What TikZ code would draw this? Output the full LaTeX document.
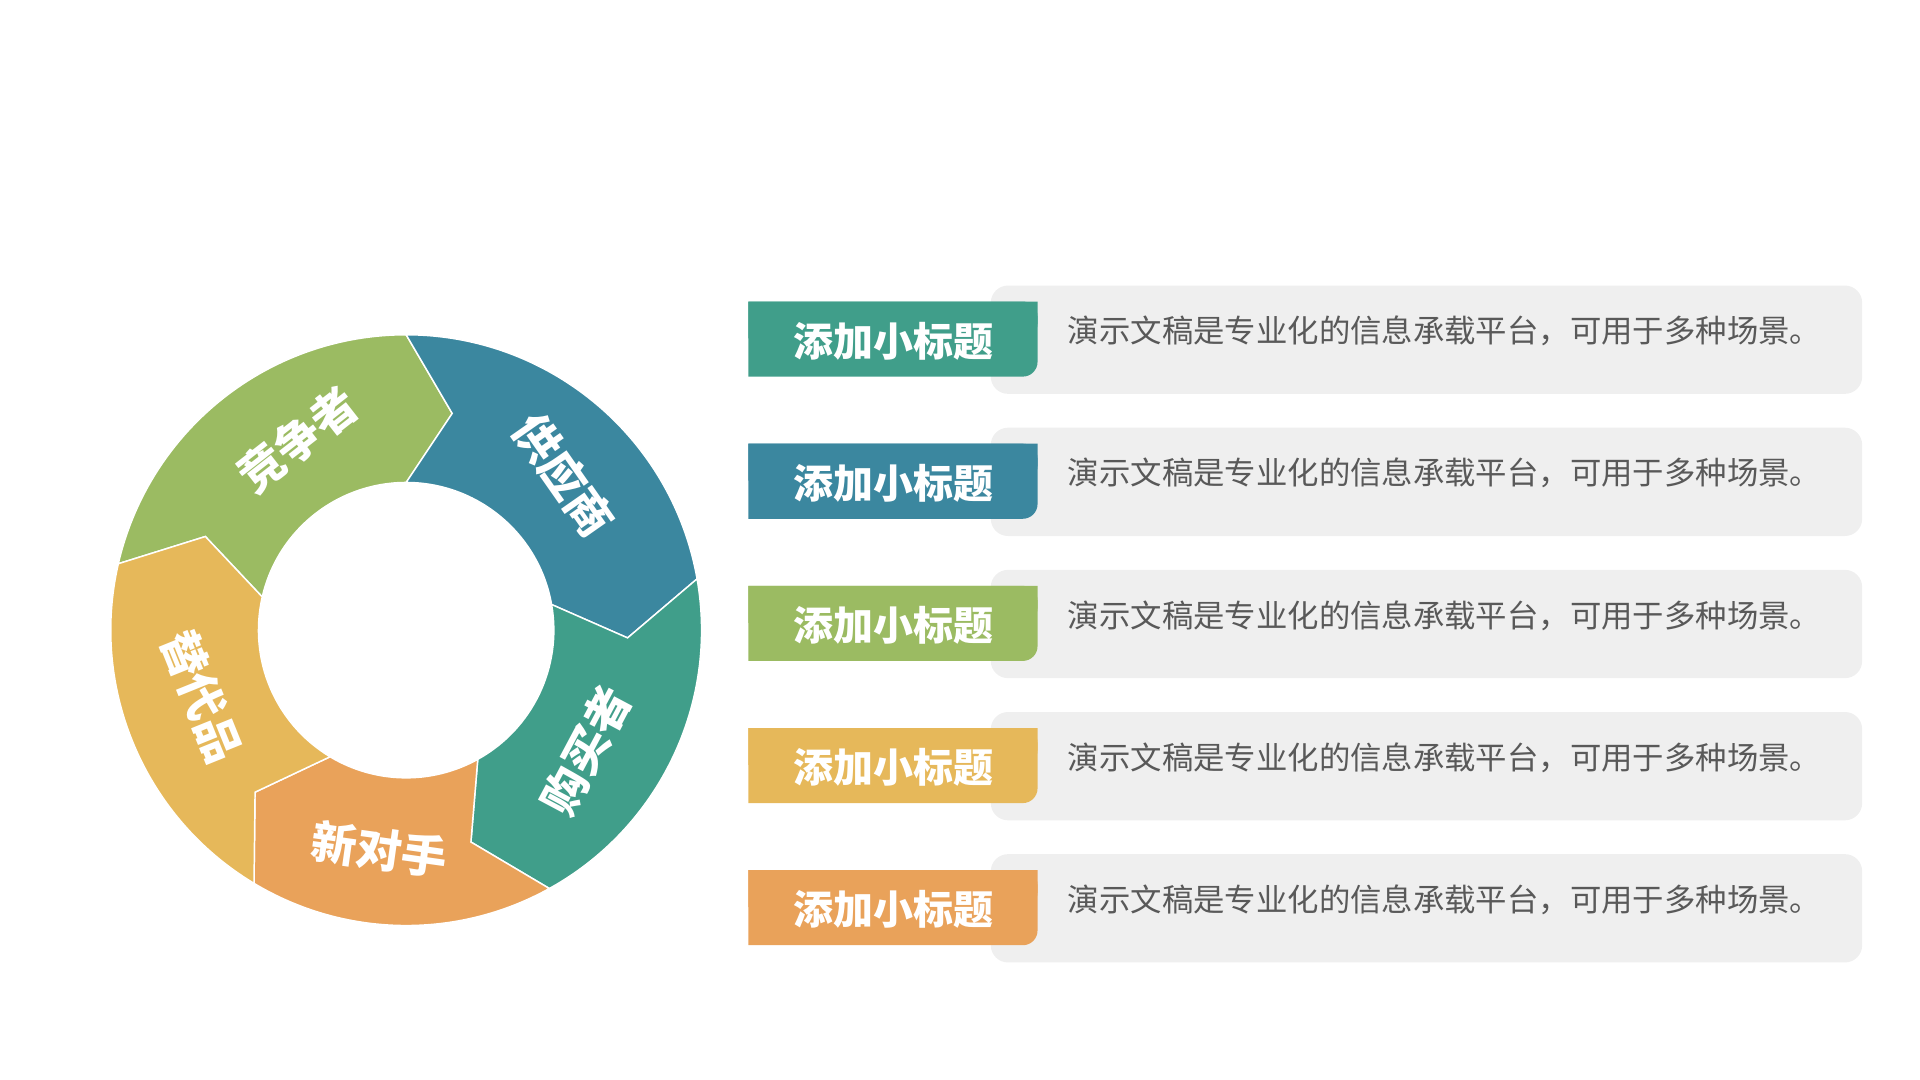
\documentclass[tikz,border=0pt]{standalone}
\usepackage{fontspec}
\newfontfamily\cjk{Noto Sans CJK SC}
\definecolor{cteal}{RGB}{64,158,138}
\definecolor{cblue}{RGB}{59,135,159}
\definecolor{cgreen}{RGB}{155,187,98}
\definecolor{cyellow}{RGB}{230,184,90}
\definecolor{corange}{RGB}{233,162,90}
\definecolor{cgrey}{RGB}{239,239,239}
\definecolor{ctext}{RGB}{89,89,89}
\tikzset{every picture/.style={line width=0.75pt},
  ringlabel/.style={text=white,font=\cjk\bfseries\fontsize{37}{37}\selectfont},
  tag/.style={text=white,font=\cjk\bfseries\fontsize{32.5}{32.5}\selectfont},
  desc/.style={text=ctext,anchor=west,font=\cjk\fontsize{25.5}{25.5}\selectfont}}
\begin{document}
\begin{tikzpicture}[x=1pt,y=1pt,yscale=-1,xscale=1]
\useasboundingbox (0,0) rectangle (1560,877.5);

% ring segments
\begin{scope}[shift={(330,512)},yscale=-1]
\foreach \s/\e/\c in {167/90/cgreen,90/10/cblue,10/-61/cteal,-61/-121/corange,-121/-193/cyellow}{
  \fill[\c,draw=white,line width=1.2pt] (\s:240) arc[start angle=\s,end angle=\e,radius=240]
    -- ({\e-12}:180) -- (\e:120) arc[start angle=\e,end angle=\s,radius=120]
    -- ({\s-12}:180) -- cycle;
}
\end{scope}

% ring labels
\node[ringlabel,rotate=38] (competitor) at (242,357) {竞争者};
\node[ringlabel,rotate=-55] (supplier) at (458,386) {供应商};
\node[ringlabel,rotate=62] (buyer) at (476,610) {购买者};
\node[ringlabel,rotate=-8] (newcomer) at (308,690) {新对手};
\node[ringlabel,rotate=-68] (substitute) at (164,566) {替代品};

% rows
\foreach \y/\c [count=\i] in {245/cteal,360.5/cblue,476/cgreen,591.5/cyellow,707/corange}{
  \fill[cgrey,rounded corners=14pt] (805,\y-13) rectangle (1513,\y+75);
  \fill[\c] (608,\y) -- (843,\y) [rounded corners=12pt] -- (843,\y+61) [sharp corners] -- (608,\y+61) -- cycle;
  \fill[\c] (608,\y) [rounded corners=12pt] -- (843,\y) -- (843,\y+30) [sharp corners] -- (608,\y+30) -- cycle;
  \node[tag] (tag\i) at (726,\y+32) {添加小标题};
  \node[desc] (desc\i) at (864,\y+24) {演示文稿是专业化的信息承载平台，可用于多种场景。};
}
\end{tikzpicture}
\end{document}
